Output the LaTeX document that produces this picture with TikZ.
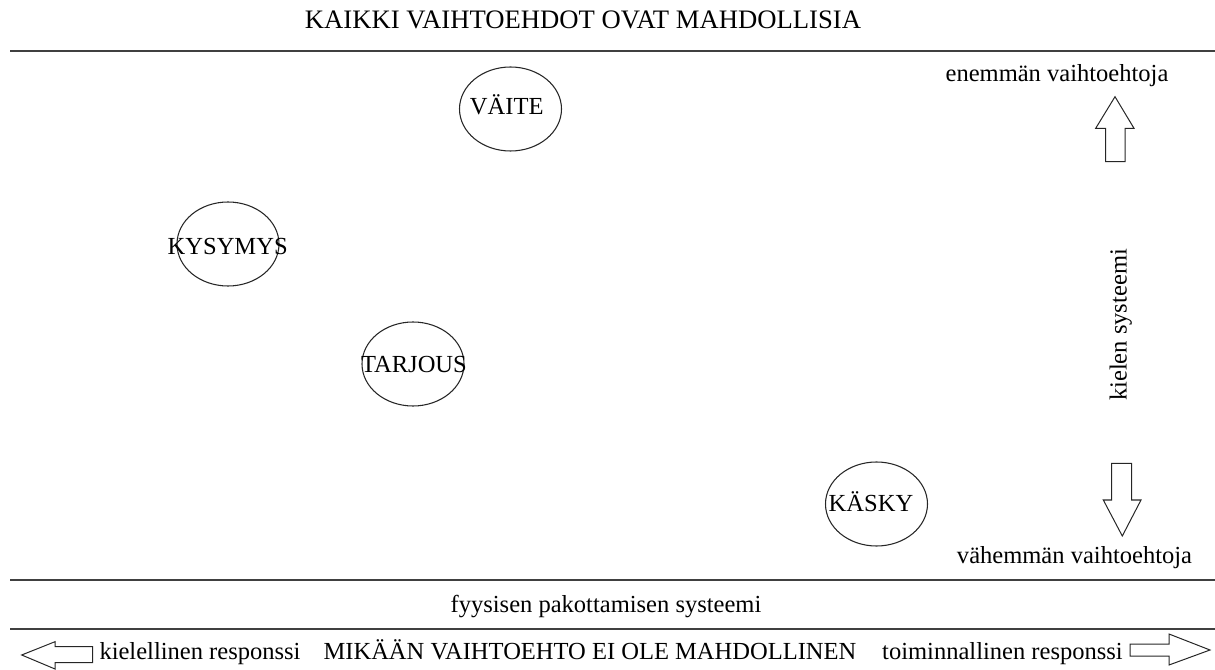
\documentclass[tikz,border=0pt]{standalone}
\usepackage{fontspec}
\setmainfont{Liberation Serif}
\usetikzlibrary{shapes.geometric}
\begin{document}
\begin{tikzpicture}[x=0.75pt,y=-0.75pt,
  txt/.style={font=\fontsize{18.4}{22}\selectfont, inner sep=0pt, anchor=base, text=black},
  oval/.style={draw=black!85, ellipse, line width=0.8pt, inner sep=0pt, minimum width=76.5pt, minimum height=63pt},
  rulel/.style={draw=black!75, line width=1.1pt},
  hollow/.style={draw=black!85, line width=0.75pt, line join=miter}]
\useasboundingbox (0,0) rectangle (1215,670);

% title and rules
\node[txt, font=\fontsize{20}{24}\selectfont] (title) at (583,29) {KAIKKI VAIHTOEHDOT OVAT MAHDOLLISIA};
\draw[rulel] (10,51) -- (1215,51);
\draw[rulel] (10,580) -- (1215,580);
\draw[rulel] (10,629) -- (1215,629);

% ellipses
\node[oval] (vaite) at (510.5,109) {};
\node[txt] (vaitet) at (506.7,115) {VÄITE};
\node[oval] (kysymys) at (228,244) {};
\node[txt] (kysymyst) at (227.7,255) {KYSYMYS};
\node[oval] (tarjous) at (413,364) {};
\node[txt] (tarjoust) at (414,373) {TARJOUS};
\node[oval] (kasky) at (876.5,504) {};
\node[txt] (kaskyt) at (871,511.7) {KÄSKY};

% right column
\node[txt] (enemman) at (1057,82) {enemmän vaihtoehtoja};
\draw[hollow] (1115,96.7) -- (1134,128.3) -- (1125,128.3) -- (1125,161.7)
  -- (1105.7,161.7) -- (1105.7,128.3) -- (1095.7,128.3) -- cycle;
\node[txt, rotate=90] (kielen) at (1126.7,325) {kielen systeemi};
\draw[hollow] (1111.7,463.3) -- (1131.7,463.3) -- (1131.7,500) -- (1141,500)
  -- (1122.3,536) -- (1103.3,500) -- (1111.7,500) -- cycle;
\node[txt] (vahemman) at (1074.5,563) {vähemmän vaihtoehtoja};

% bottom
\node[txt] (fyys) at (606,612) {fyysisen pakottamisen systeemi};
\draw[hollow] (21.7,655) -- (55,641.7) -- (55,646.7) -- (92.7,646.7)
  -- (92.7,662.7) -- (55,662.7) -- (55,669) -- cycle;
\node[txt] (kiel) at (200,659) {kielellinen responssi};
\node[txt] (mikaan) at (590,659) {MIKÄÄN VAIHTOEHTO EI OLE MAHDOLLINEN};
\node[txt] (toim) at (1002.5,659) {toiminnallinen responssi};
\draw[hollow] (1130,644) -- (1169,644) -- (1169,634) -- (1210,650)
  -- (1169,665) -- (1169,656) -- (1130,656) -- cycle;
\end{tikzpicture}
\end{document}
